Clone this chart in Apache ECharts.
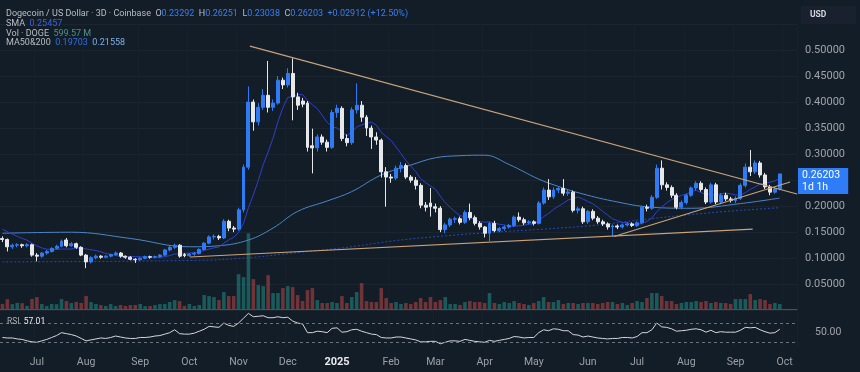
<!DOCTYPE html>
<html><head><meta charset="utf-8">
<script src="https://cdn.jsdelivr.net/npm/echarts@6/dist/echarts.min.js"></script>
<style>html,body{margin:0;padding:0;background:#131d27;}#c{width:860px;height:372px;}</style>
</head><body><div id="c"></div>
<script>
// ---- DATA ----
const startDate = '2024-06-11';   // first 3D candle
const stepDays = 3;
const futureSlots = 3;            // empty slots right of last candle
const monthNames = ['Jan','Feb','Mar','Apr','May','Jun','Jul','Aug','Sep','Oct','Nov','Dec'];
const priceTickLabels = [0.05,0.10,0.15,0.20,0.30,0.35,0.40,0.45,0.50];
const rsiTickLabels = [50];

const opens = [
.138,.136,.122,.125,.126,.124,.126,.106,.104,.110,
.113,.119,.123,.135,.124,.128,.121,.106,.093,.101,
.104,.102,.104,.107,.110,.104,.102,.098,.097,.100,
.103,.102,.103,.106,.116,.121,.125,.107,.105,.108,
.109,.117,.129,.141,.142,.139,.171,.158,.156,.193,
.275,.400,.362,.390,.413,.390,.398,.442,.433,.455,
.410,.402,.398,.316,.312,.333,.323,.313,.380,.388,
.330,.322,.385,.394,.371,.350,.333,.327,.266,.256,
.254,.273,.278,.256,.250,.240,.202,.206,.199,.196,
.155,.164,.175,.176,.169,.188,.178,.167,.160,.148,
.167,.153,.157,.160,.163,.179,.174,.168,.170,.167,
.206,.231,.218,.231,.234,.225,.227,.192,.195,.170,
.190,.177,.170,.166,.160,.162,.160,.164,.166,.163,
.168,.198,.196,.217,.273,.241,.236,.221,.198,.207,
.221,.235,.244,.232,.208,.241,.208,.221,.214,.211,
.215,.240,.275,.266,.283,.260,.237,.227,.23292];
const closes = [
.136,.122,.125,.126,.124,.126,.106,.104,.110,.113,
.119,.123,.133,.124,.128,.121,.106,.093,.101,.104,
.102,.104,.107,.110,.104,.102,.098,.097,.100,.103,
.102,.103,.106,.116,.121,.125,.104,.105,.108,.109,
.117,.129,.141,.142,.139,.171,.158,.156,.193,.275,
.400,.362,.390,.413,.390,.398,.442,.433,.455,.410,
.394,.396,.313,.312,.333,.323,.313,.380,.388,.330,
.322,.385,.394,.371,.350,.333,.327,.266,.256,.254,
.273,.278,.256,.250,.240,.202,.198,.199,.196,.155,
.164,.175,.176,.169,.188,.178,.167,.160,.148,.167,
.153,.157,.160,.163,.179,.174,.168,.170,.167,.206,
.231,.218,.231,.234,.225,.227,.192,.195,.170,.190,
.177,.170,.166,.160,.162,.160,.164,.166,.163,.168,
.198,.196,.217,.273,.241,.236,.221,.198,.207,.221,
.235,.244,.232,.208,.241,.208,.221,.214,.211,.215,
.240,.275,.266,.283,.260,.237,.227,.23292,.26203];
const lows = [
.131,.113,.118,.121,.120,.121,.103,.094,.101,.107,
.111,.117,.121,.121,.122,.118,.104,.081,.090,.098,
.099,.100,.102,.105,.101,.099,.096,.091,.095,.098,
.099,.100,.101,.104,.113,.118,.101,.102,.103,.105,
.107,.115,.127,.136,.135,.137,.152,.150,.153,.188,
.270,.345,.355,.385,.380,.383,.395,.425,.428,.365,
.385,.390,.305,.263,.305,.318,.305,.310,.370,.325,
.315,.318,.378,.362,.335,.310,.318,.255,.199,.245,
.250,.265,.252,.245,.232,.196,.190,.180,.188,.150,
.148,.160,.168,.165,.166,.173,.163,.155,.140,.133,
.150,.150,.153,.157,.160,.170,.164,.165,.163,.165,
.203,.212,.214,.225,.220,.220,.188,.186,.166,.166,
.173,.166,.162,.155,.142,.156,.157,.161,.160,.160,
.165,.190,.193,.214,.232,.230,.216,.194,.194,.203,
.218,.230,.228,.204,.205,.204,.204,.210,.207,.206,
.212,.236,.258,.262,.255,.233,.221,.224,.23038];
const highs = [
.142,.138,.128,.129,.128,.129,.128,.110,.112,.116,
.121,.126,.136,.139,.131,.130,.123,.108,.104,.107,
.106,.106,.109,.113,.112,.105,.104,.100,.102,.105,
.105,.105,.108,.118,.124,.128,.127,.110,.110,.112,
.119,.131,.144,.146,.145,.175,.174,.162,.197,.280,
.430,.405,.398,.425,.479,.405,.450,.447,.465,.484,
.418,.408,.402,.349,.338,.338,.328,.385,.395,.392,
.338,.390,.436,.402,.375,.355,.342,.330,.275,.262,
.278,.285,.282,.260,.256,.244,.208,.235,.205,.200,
.168,.178,.180,.180,.192,.205,.182,.171,.162,.170,
.172,.160,.163,.166,.182,.188,.178,.173,.173,.210,
.236,.252,.236,.238,.252,.232,.230,.199,.199,.193,
.194,.181,.174,.169,.165,.165,.167,.169,.169,.171,
.201,.203,.221,.280,.288,.246,.240,.225,.211,.224,
.238,.248,.248,.236,.245,.245,.225,.226,.218,.219,
.244,.282,.308,.288,.287,.264,.241,.237,.26251];
const volumesM = [
612,1185,590,734,702,371,1214,1432,598,355,
611,587,1196,948,716,852,731,1573,829,604,
476,366,593,358,489,362,471,484,607,351,
368,487,596,612,846,1074,958,372,601,357,
480,1680,1560,1440,1080,2040,1560,1560,4200,3840,
9120,3600,2880,2760,4080,1920,1920,2520,2760,2640,
1680,960,2280,2520,1080,720,720,840,720,1560,
720,1440,2040,3120,960,840,840,2520,1320,720,
840,600,720,600,840,1320,840,1440,840,1080,
1440,600,600,480,840,960,840,840,720,1920,
720,600,840,720,960,720,600,480,720,960,
1440,840,840,1080,600,720,720,600,720,720,
720,600,720,840,840,600,720,480,720,960,
840,1320,1920,1920,1560,960,960,600,720,840,
840,960,840,960,720,840,720,720,600,1200,
1200,1200,1800,1080,1200,1080,600,720,599.57];
const rsiValues = [
40,39,39,37,36,33,31,30,33,36,
40,44,50,48,46,43,38,33,35,37,
39,38,40,43,41,39,38,38,40,40,
41,43,44,47,50,56,48,47,47,49,
53,57,63,62,61,70,65,63,70,80,
90,83,84,85,81,81,83,81,82,74,
70,68,50,50,53,52,50,59,60,51,
52,56,57,53,50,47,46,40,39,39,
41,41,39,37,35,31,31,32,32,27,
30,33,33,32,36,34,32,31,30,34,
32,34,36,38,42,41,39,40,40,50,
56,54,58,57,54,54,46,45,41,43,
41,39,38,37,38,38,40,40,39,42,
50,50,56,70,62,61,58,53,54,55,
57,58,56,51,55,50,52,51,51,51,
55,61,60,61,56,52,49,50,57.01];
// closes of the 8 candles before the first one (SMA 9 warm-up)
const priorCloses = [0.165,0.168,0.162,0.160,0.158,0.160,0.150,0.143];
// MA lines: [candle index, value]
const ma50Points = [[0,0.148],[14,0.150],[26,0.138],[38,0.122],[44,0.124],[50,0.135],[55,0.158],[60,0.19],[66,0.21],[71,0.228],[77,0.26],[83,0.279],[88,0.293],[93,0.297],[98,0.298],[103,0.28],[109,0.252],[113,0.238],[117,0.226],[124,0.21],[132,0.198],[140,0.196],[150,0.205],[158,0.2156]];
const ma200Points = [[0,0.093],[40,0.096],[50,0.101],[60,0.111],[70,0.121],[80,0.134],[90,0.143],[100,0.150],[110,0.156],[120,0.163],[130,0.174],[140,0.184],[150,0.192],[158,0.197]];
// drawn trend lines: [candle index, price]
const trendDown = [[50.3,0.5076],[161.5,0.2234]];
const trendBase = [[38.1,0.1024],[152.5,0.1561]];
const trendUp = [[124.3,0.1417],[160.1,0.2464]];

// ---- BUILD ----
const N = closes.length;
const totalSlots = N + futureSlots;
const t0 = Date.parse(startDate);
const categories = [];
for (let i = 0; i < totalSlots; i++) categories.push(new Date(t0 + i*stepDays*86400000).toISOString().slice(0,10));
const isMonthStart = idx => idx > 0 && categories[idx].slice(0,7) !== categories[idx-1].slice(0,7);

const allCloses = priorCloses.concat(closes);
const sma9 = closes.map((c,i) => { const k = i + priorCloses.length; let s = 0; for (let j = k-8; j <= k; j++) s += allCloses[j]; return +(s/9).toFixed(5); });

const UP = '#2f7bf5', DOWN = '#e6e8ea';
const candleData = opens.map((o,i) => [o, closes[i], lows[i], highs[i]]);
const volData = volumesM.map((v,i) => ({value: v, itemStyle: {color: closes[i] >= opens[i] ? 'rgba(38,166,154,0.45)' : 'rgba(239,83,80,0.42)'}}));
const lastPrice = closes[N-1];

const FONT = 'Roboto, "Noto Sans", sans-serif';
const gridRight = 63;
const chart = echarts.init(document.getElementById('c'));
const trendStyle = {color:'#c9a27a', width:1.2};
chart.setOption({
  animation: false,
  backgroundColor: '#131d27',
  textStyle: {fontFamily: FONT},
  grid: [
    {left: 0, right: gridRight, top: 24, height: 286.3},
    {left: 0, right: gridRight, top: 226, height: 83},
    {left: 0, right: gridRight, top: 312.4, height: 35.7}
  ],
  xAxis: [
    {type:'category', gridIndex:0, data:categories, axisLabel:{show:false}, axisTick:{show:false}, axisLine:{show:false},
     splitLine:{show:true, interval:(i)=>isMonthStart(i), lineStyle:{color:'#17212c'}}},
    {type:'category', gridIndex:1, data:categories, axisLabel:{show:false}, axisTick:{show:false},
     axisLine:{show:true, lineStyle:{color:'#46505e', width:1}}},
    {type:'category', gridIndex:2, data:categories, axisTick:{show:false}, axisLine:{show:false},
     splitLine:{show:true, interval:(i)=>isMonthStart(i), lineStyle:{color:'#17212c'}},
     axisLabel:{show:true, interval:(i)=>isMonthStart(i), color:'#9aa0a8', fontSize:10.5, margin:9, fontFamily:FONT,
       formatter:(v)=>{const m=+v.slice(5,7); return m===1 ? '{y|'+v.slice(0,4)+'}' : monthNames[m-1];},
       rich:{y:{fontWeight:'bold', color:'#e8eaed', fontSize:11, fontFamily:FONT}}}},
    {type:'value', gridIndex:0, min:-0.5, max:totalSlots-0.5, show:false}
  ],
  yAxis: [
    {type:'value', gridIndex:0, position:'right', min:0, max:0.55, interval:0.05,
     axisLine:{show:false}, axisTick:{show:false},
     splitLine:{show:true, lineStyle:{color:'#1b2530'}},
     axisLabel:{color:'#9ea3ab', fontSize:11, margin:8, fontFamily:FONT,
       formatter:(v)=> priceTickLabels.some(t=>Math.abs(t-v)<1e-6) ? v.toFixed(5) : ''}},
    {type:'value', gridIndex:1, min:0, max:10000, show:false},
    {type:'value', gridIndex:2, position:'right', min:18, max:92, interval:2,
     axisLine:{show:false}, axisTick:{show:false}, splitLine:{show:false},
     axisLabel:{color:'#9ea3ab', fontSize:10.5, margin:18, fontFamily:FONT,
       formatter:(v)=> rsiTickLabels.some(t=>Math.abs(t-v)<1e-6) ? v.toFixed(2) : ''}}
  ],
  series: [
    {type:'bar', xAxisIndex:1, yAxisIndex:1, data:volData, barWidth:'72%', z:1, silent:true},
    {type:'line', xAxisIndex:3, yAxisIndex:0, data:ma200Points, smooth:0.4, symbol:'none', z:2,
     lineStyle:{color:'#2747b5', width:1, type:[2,2]}},
    {type:'line', xAxisIndex:3, yAxisIndex:0, data:ma50Points, smooth:0.4, symbol:'none', z:2,
     lineStyle:{color:'#4a86c8', width:1}},
    {type:'line', xAxisIndex:0, yAxisIndex:0, data:sma9, symbol:'none', z:2,
     lineStyle:{color:'#2e3fd1', width:1}},
    {type:'candlestick', xAxisIndex:0, yAxisIndex:0, data:candleData, barWidth:'70%', z:3, clip:false,
     itemStyle:{color:UP, color0:DOWN, borderColor:UP, borderColor0:DOWN, borderWidth:1},
     markLine:{silent:true, symbol:['none','none'], animation:false,
       lineStyle:{color:'rgba(0,0,0,0)', width:1, type:'solid'},
       label:{show:true, position:'end', distance:1, formatter: lastPrice.toFixed(5)+'\n1d 1h',
         color:'#ffffff', backgroundColor:'#2e7cf6', fontSize:10.5, lineHeight:12, padding:[1,8,1,4], offset:[0,6], fontFamily:FONT},
       data:[{yAxis: lastPrice}]}},
    {type:'line', xAxisIndex:3, yAxisIndex:0, data:trendDown, symbol:'none', z:4, lineStyle:trendStyle},
    {type:'line', xAxisIndex:3, yAxisIndex:0, data:trendBase, symbol:'none', z:4, lineStyle:trendStyle},
    {type:'line', xAxisIndex:3, yAxisIndex:0, data:trendUp, symbol:'none', z:4, lineStyle:trendStyle},
    {type:'line', xAxisIndex:2, yAxisIndex:2, data:rsiValues, symbol:'none', z:3,
     lineStyle:{color:'#d4d7dc', width:1},
     markLine:{silent:true, symbol:['none','none'], label:{show:false},
       lineStyle:{color:'#6a7380', type:[3,3], width:1}, data:[{yAxis:70},{yAxis:30}]}}
  ],
  graphic: [
    {type:'text', left:6, top:9, z:10, style:{fontSize:9, fontFamily:FONT, fill:'#b9bdc4',
      text:'{t|Dogecoin / US Dollar · 3D · Coinbase}  {k|O}{v|0.23292}  {k|H}{v|0.26251}  {k|L}{v|0.23038}  {k|C}{v|0.26203}  {v|+0.02912 (+12.50%)}',
      rich:{t:{fill:'#b9bdc4', fontSize:9, fontFamily:FONT}, k:{fill:'#b9bdc4', fontSize:9, fontFamily:FONT}, v:{fill:'#3b7ff0', fontSize:9, fontFamily:FONT}}}},
    {type:'text', left:6, top:19.5, z:10, style:{fontSize:9, fontFamily:FONT,
      text:'{k|SMA}  {v|0.25457}', rich:{k:{fill:'#b9bdc4', fontSize:9, fontFamily:FONT}, v:{fill:'#3a62e0', fontSize:9, fontFamily:FONT}}}},
    {type:'text', left:6, top:29, z:10, style:{fontSize:9, fontFamily:FONT,
      text:'{k|Vol · DOGE}  {v|599.57 M}', rich:{k:{fill:'#b9bdc4', fontSize:9, fontFamily:FONT}, v:{fill:'#4f9088', fontSize:9, fontFamily:FONT}}}},
    {type:'text', left:6, top:38.5, z:10, style:{fontSize:9, fontFamily:FONT,
      text:'{k|MA50&200}  {v|0.19703}  {w|0.21558}', rich:{k:{fill:'#b9bdc4', fontSize:9, fontFamily:FONT}, v:{fill:'#2f6fe0', fontSize:9, fontFamily:FONT}, w:{fill:'#7fb0e6', fontSize:9, fontFamily:FONT}}}},
    {type:'text', left:7, top:317, z:10, style:{fontSize:8.5, fontFamily:FONT,
      text:'{k|RSI}  {v|57.01}', rich:{k:{fill:'#a9aeb6', fontSize:8.5, fontFamily:FONT}, v:{fill:'#e8eaed', fontSize:8.5, fontFamily:FONT}}}},
    {type:'rect', left:801, top:6, z:10, shape:{width:55, height:18}, style:{fill:'#18212d'}},
    {type:'text', left:810, top:10, z:11, style:{text:'USD', fontSize:8.5, fontWeight:'bold', fontFamily:FONT, fill:'#d6d8dc'}}
  ]
});
</script></body></html>
